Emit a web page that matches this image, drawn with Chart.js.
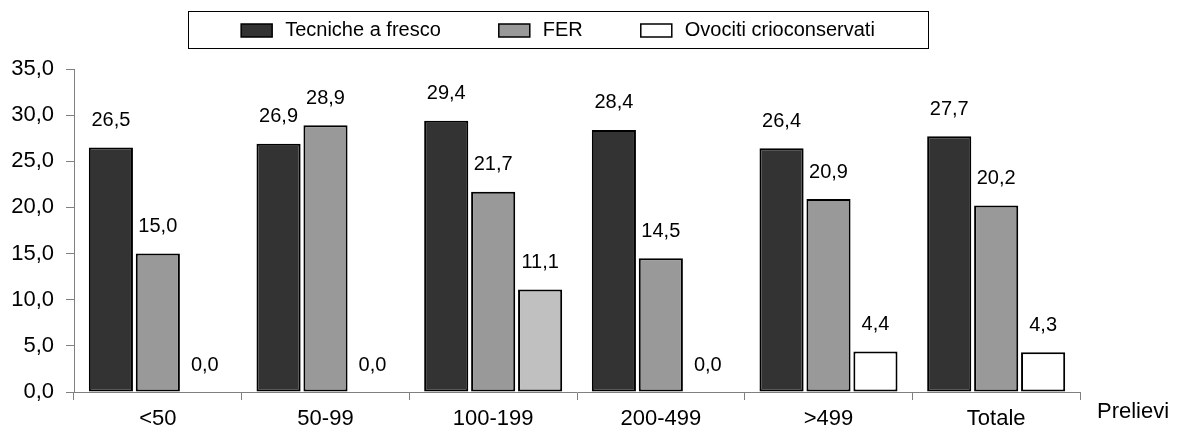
<!DOCTYPE html>
<html>
<head>
<meta charset="utf-8">
<script src="https://cdn.jsdelivr.net/npm/chart.js@4.4.1/dist/chart.umd.min.js"></script>
<style>
  body { margin: 0; background: #fff; }
  #wrap { width: 1182px; height: 442px; }
</style>
</head>
<body>
<div id="wrap"><canvas id="chart"></canvas></div>
<script>
const categories = ['<50', '50-99', '100-199', '200-499', '>499', 'Totale'];
const tecnicheFresco = [26.5, 26.9, 29.4, 28.4, 26.4, 27.7];
const fer = [15.0, 28.9, 21.7, 14.5, 20.9, 20.2];
const ovocitiCrio = [0.0, 0.0, 11.1, 0.0, 4.4, 4.3];
const yTicks = [0, 5, 10, 15, 20, 25, 30, 35];

const FONT = '"Liberation Sans", Arial, sans-serif';

function fmt(v) {
    return Number(v).toFixed(1).replace('.', ',');
}

// value labels above each bar
const valueLabels = {
    id: 'valueLabels',
    afterDatasetsDraw(chart) {
        const ctx = chart.ctx;
        ctx.save();
        ctx.font = '20px ' + FONT;
        ctx.fillStyle = '#000';
        ctx.textAlign = 'center';
        ctx.textBaseline = 'middle';
        chart.data.datasets.forEach((ds, i) => {
            chart.getDatasetMeta(i).data.forEach((bar, j) => {
                ctx.fillText(fmt(ds.data[j]), bar.x, bar.y - 27);
            });
        });
        ctx.restore();
    }
};

// boxed legend on top + axis name on the right
const frameLegend = {
    id: 'frameLegend',
    afterDraw(chart) {
        const ctx = chart.ctx;
        const box = { left: 188, right: 928, top: 11, bottom: 48 };
        const gap = 58;
        ctx.save();
        ctx.strokeStyle = '#000';
        ctx.lineWidth = 1;
        ctx.strokeRect(box.left + 0.5, box.top + 0.5, box.right - box.left, box.bottom - box.top);

        ctx.font = '20px ' + FONT;
        ctx.textBaseline = 'middle';
        ctx.textAlign = 'left';
        const items = chart.data.datasets.map(ds => ({
            label: ds.label,
            fill: typeof ds.backgroundColor === 'function' ? ds.backgroundColor({}) : ds.backgroundColor,
            w: 31 + 13 + ctx.measureText(ds.label).width
        }));
        const total = items.reduce((s, it) => s + it.w, 0) + gap * (items.length - 1);
        let x = (box.left + box.right) / 2 - total / 2;
        const cy = (box.top + box.bottom) / 2 + 1;
        items.forEach(it => {
            ctx.fillStyle = it.fill;
            ctx.fillRect(x, cy - 6.5, 31, 13);
            ctx.lineWidth = 1.5;
            ctx.strokeStyle = '#000';
            ctx.strokeRect(x, cy - 6.5, 31, 13);
            ctx.fillStyle = '#000';
            ctx.fillText(it.label, x + 44, cy);
            x += it.w + gap;
        });

        ctx.font = '22px ' + FONT;
        ctx.textBaseline = 'middle';
        ctx.fillText('Prelievi', chart.chartArea.right + 17, chart.chartArea.bottom + 20);
        ctx.restore();
    }
};

new Chart(document.getElementById('chart'), {
    type: 'bar',
    data: {
        labels: categories,
        datasets: [{
            label: 'Tecniche a fresco',
            data: tecnicheFresco,
            backgroundColor: '#333333',
        }, {
            label: 'FER',
            data: fer,
            backgroundColor: '#999999',
        }, {
            label: 'Ovociti crioconservati',
            data: ovocitiCrio,
            backgroundColor: (c) => c.dataIndex === 2 ? '#c0c0c0' : '#ffffff',
        }]
    },
    options: {
        responsive: true,
        maintainAspectRatio: false,
        animation: false,
        datasets: {
            bar: {
                borderColor: '#000',
                borderWidth: 2,
                borderSkipped: false,
                categoryPercentage: 0.84,
                barPercentage: 0.94,
            }
        },
        layout: {
            padding: { top: 69, right: 102, left: 0, bottom: 0 }
        },
        scales: {
            x: {
                afterFit: (scale) => { scale.height = 50; },
                border: { color: '#808080', width: 1 },
                grid: {
                    offset: true,
                    drawOnChartArea: false,
                    color: '#808080',
                    tickLength: 8,
                },
                ticks: {
                    color: '#000',
                    padding: 6,
                    font: { family: FONT, size: 22 },
                },
            },
            y: {
                min: 0,
                max: 35,
                afterFit: (scale) => { scale.width = 74; },
                afterBuildTicks: (scale) => {
                    scale.ticks = yTicks.map(v => ({ value: v }));
                },
                border: { color: '#808080', width: 1 },
                grid: {
                    drawOnChartArea: false,
                    color: '#808080',
                    tickLength: 8,
                },
                ticks: {
                    color: '#000',
                    padding: 12,
                    font: { family: FONT, size: 22 },
                    callback: (v) => fmt(v),
                },
            }
        },
        plugins: {
            legend: { display: false },
            tooltip: { enabled: false },
        },
    },
    plugins: [valueLabels, frameLegend],
});
</script>
</body>
</html>
